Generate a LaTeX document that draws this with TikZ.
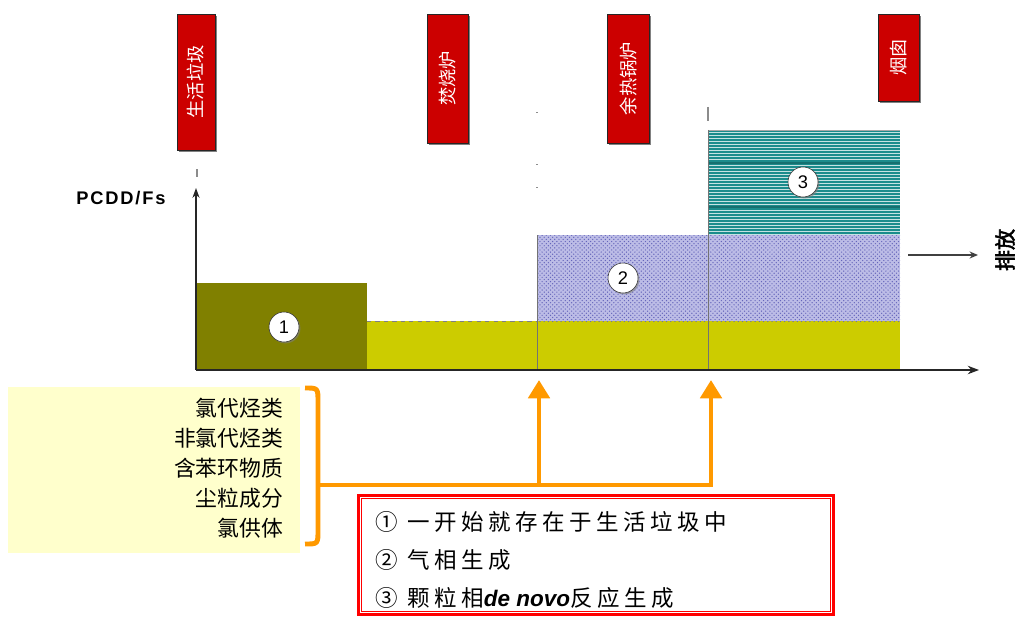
\documentclass[tikz,border=0pt]{standalone}
\usepackage{fontspec}
\usepackage{graphicx}
\setmainfont{Liberation Sans}
\newfontfamily\cjk{Noto Sans CJK SC}
\newfontfamily\cjkwide[LetterSpace=20]{Noto Sans CJK SC}
\newfontfamily\cjkbold[FakeBold=2.5]{Noto Sans CJK SC}
\usetikzlibrary{arrows.meta, positioning, patterns, shadows}
\definecolor{boxred}{HTML}{CC0000}
\definecolor{olivebar}{HTML}{808000}
\definecolor{yellowbar}{HTML}{CCCC00}
\definecolor{gasblue}{HTML}{BCBCE6}
\definecolor{gasdot}{HTML}{6666BB}
\definecolor{tealbar}{HTML}{C4E2E2}
\definecolor{tealline}{HTML}{1A8C8C}
\definecolor{srcyellow}{HTML}{FFFFCC}
\definecolor{flow}{HTML}{FF9900}

\begin{document}
\begin{tikzpicture}[x=0.025cm, y=-0.025cm, >=Stealth]
    \tikzstyle{stage}=[rectangle, fill=boxred, draw=black!85, text=white, inner sep=0pt, minimum width=1.025cm, font=\cjk\fontsize{13}{13}\selectfont, drop shadow={shadow xshift=1.3pt, shadow yshift=-1.3pt, opacity=0.7, fill=black!70}]
    \tikzstyle{tag}=[circle, draw=black!80, fill=white, minimum size=0.75cm, inner sep=0pt, font=\fontsize{13}{13}\selectfont, drop shadow={shadow xshift=1pt, shadow yshift=-1pt, opacity=0.6}]
    \tikzstyle{axis}=[draw=black!85, line width=1.4pt]
    \tikzstyle{divider}=[draw=black!55, line width=0.5pt]
    \tikzstyle{tick}=[draw=black!45, line width=1pt]
    \tikzstyle{flowline}=[draw=flow, line width=3.5pt]
    \tikzstyle{flowarrow}=[flowline, -{Triangle[length=13pt, width=15pt]}]
    \tikzstyle{item}=[anchor=west, inner sep=0pt, font=\cjkwide\fontsize{16}{16}\selectfont]

    \useasboundingbox (0,0) rectangle (1016,617);

    % process stages
    \node[stage, minimum width=0.95cm, minimum height=3.4cm] (msw) at (196,82) {\rotatebox{90}{生活垃圾}};
    \node[stage, minimum height=3.225cm] (furnace) at (447.5,78.5) {\rotatebox{90}{焚烧炉}};
    \node[stage, minimum width=1.05cm, minimum height=3.225cm] (boiler) at (628,78.5) {\rotatebox{90}{余热锅炉}};
    \node[stage, minimum height=2.175cm] (stack) at (898.5,57.5) {\rotatebox{90}{烟囱}};

    \draw[tick] (197,169) -- (197,177);
    \draw[tick] (708,107) -- (708,121);
    \draw[tick, line width=0.7pt] (536,112) -- (538,112);
    \draw[tick, line width=0.7pt] (536,164) -- (538,164);
    \draw[tick, line width=0.7pt] (536,187) -- (538,187);

    % bars
    \fill[olivebar] (196,283) rectangle (367,370);
    \fill[yellowbar] (367,321) rectangle (900,370);
    \fill[gasblue] (537,235) rectangle (900,321);
    \fill[pattern=crosshatch dots, pattern color=gasdot] (537,235) rectangle (900,321);
    \fill[tealbar] (708,130) rectangle (900,235);
    \foreach \y in {131,134,...,234}
        \draw[tealline, line width=0.75pt] (708,\y) -- (900,\y);
    \draw[tealline!80!black, line width=1.2pt] (708,163) -- (900,163);
    \draw[tealline!80!black, line width=1.2pt] (708,207) -- (900,207);
    \draw[black!35, line width=0.4pt] (708,130) -- (900,130);
    \draw[black!50, dashed] (367,321) -- (537,321);
    \draw[divider] (537,235) -- (537,370);
    \draw[divider] (708,130) -- (708,370);

    \node[tag] (c1) at (284,327) {1};
    \node[tag] (c2) at (623,278) {2};
    \node[tag] (c3) at (803,182) {3};

    % axes
    \coordinate (o) at (196,370);
    \coordinate (ytip) at (196,188);
    \coordinate (xtip) at (979,370);
    \draw[axis, -{Stealth[length=7pt, width=5pt]}] (o) -- (ytip);
    \draw[axis, -{Stealth[length=8pt, width=6pt]}] (o) -- (xtip);
    \node[font=\bfseries\addfontfeature{LetterSpace=10}\fontsize{13}{13}\selectfont] (ylab) at (121,198) {PCDD/Fs};

    \coordinate (e0) at (908,255);
    \coordinate (e1) at (978,255);
    \draw[draw=black!75, line width=1.2pt, -{Stealth[length=6pt, width=5pt]}] (e0) -- (e1);
    \node[rotate=90, font=\cjkbold\fontsize{15}{15}\selectfont] (emit) at (1005,250) {排放};

    % sources
    \fill[srcyellow] (8,387) rectangle (300,553);
    \node[anchor=east, align=right, font=\cjk\fontsize{15.5}{21.3}\selectfont] (src) at (288,468) {氯代烃类\\非氯代烃类\\含苯环物质\\尘粒成分\\氯供体};

    \coordinate (br) at (318,485);
    \coordinate (j2) at (539,485);
    \coordinate (j3) at (711,485);
    \coordinate (g2) at (539,380);
    \coordinate (g3) at (711,380);
    \draw[flowline] (305,388) .. controls (318,388) .. (318,402) -- (318,530) .. controls (318,544) .. (305,544);
    \draw[flowline] (br) -- (j3);
    \draw[flowarrow] (j2) -- (g2);
    \draw[flowarrow] ([yshift=-1.75pt]j3) -- (g3);

    % legend
    \node[draw=red, line width=2.2pt, minimum width=11.875cm, minimum height=2.975cm] (legend) at (596,555) {};
    \draw[red, line width=0.6pt] ([shift={(3.5pt,-3.5pt)}]legend.north west) rectangle ([shift={(-3.5pt,3.5pt)}]legend.south east);
    \node[item] (l1) at (375,522) {①\ 一开始就存在于生活垃圾中};
    \node[item] (l2) at (375,560) {②\ 气相生成};
    \node[item] (l3) at (375,598) {③\ 颗粒相{\normalfont\bfseries\itshape\fontsize{16}{16}\selectfont de novo}反应生成};
\end{tikzpicture}
\end{document}
